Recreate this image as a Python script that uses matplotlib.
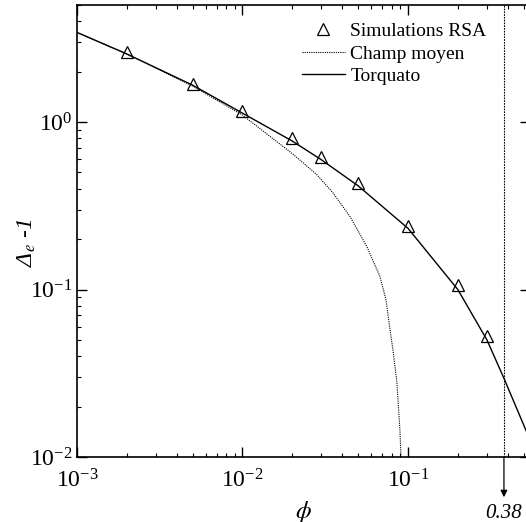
import numpy as np
import matplotlib.pyplot as plt
from matplotlib.ticker import LogLocator, NullFormatter

plt.rcParams['font.family'] = 'serif'
plt.rcParams['font.serif'] = ['Liberation Serif', 'DejaVu Serif']
plt.rcParams['mathtext.fontset'] = 'stix'
plt.rcParams['axes.unicode_minus'] = False

# RSA simulation results
phi_rsa = [0.002, 0.005, 0.01, 0.02, 0.03, 0.05, 0.1, 0.2, 0.3]
delta_rsa = [2.61, 1.68, 1.16, 0.80, 0.62, 0.433, 0.24, 0.106, 0.0525]

# mean-field curve
phi_cm = [0.001, 0.002, 0.005, 0.01, 0.0194, 0.0222, 0.0282, 0.0352, 0.0447,
          0.0565, 0.0678, 0.0736, 0.0778, 0.081, 0.0857, 0.0895, 0.0907]
delta_cm = [3.43, 2.55, 1.64, 1.10, 0.663, 0.594, 0.484, 0.378, 0.272,
            0.180, 0.119, 0.087, 0.0578, 0.044, 0.0279, 0.0141, 0.0101]

# Torquato curve
phi_tq = [0.001, 0.002, 0.005, 0.01, 0.02, 0.03, 0.05, 0.1, 0.2, 0.3, 0.38, 0.531]
delta_tq = [3.43, 2.55, 1.66, 1.13, 0.77, 0.595, 0.416, 0.232, 0.100, 0.050, 0.0295, 0.0135]

phi_c = 0.38

fig = plt.figure(figsize=(5.26, 5.22), dpi=100)
ax = fig.add_axes([77/526, 65/522, 453/526, 452/522])

ax.plot(phi_rsa, delta_rsa, '^', mfc='none', mec='k', ms=8, mew=0.9,
        label='Simulations RSA')
ax.plot(phi_cm, delta_cm, color='k', ls=(0, (1, 1)), lw=0.8, label='Champ moyen')
ax.plot(phi_tq, delta_tq, '-k', lw=1.0, label='Torquato')

ax.axvline(phi_c, color='k', ls=(0, (1.5, 1)), lw=0.8)
ax.annotate('', xy=(phi_c, -0.089), xytext=(phi_c, 0),
            xycoords=('data', 'axes fraction'), textcoords=('data', 'axes fraction'),
            arrowprops=dict(arrowstyle='-|>', color='k', lw=0.9,
                            mutation_scale=10, shrinkA=0, shrinkB=0),
            annotation_clip=False)
ax.text(phi_c, -0.126, '0.38', transform=ax.get_xaxis_transform(),
        ha='center', va='center', fontsize=15, style='italic', clip_on=False)

ax.set_xscale('log')
ax.set_yscale('log')
ax.set_xlim(1e-3, 0.546)
ax.set_ylim(1e-2, 5)

ax.xaxis.set_minor_locator(LogLocator(base=10, subs=np.arange(2, 10)))
ax.yaxis.set_minor_locator(LogLocator(base=10, subs=np.arange(2, 10)))
ax.xaxis.set_minor_formatter(NullFormatter())
ax.yaxis.set_minor_formatter(NullFormatter())
ax.tick_params(which='both', direction='in', top=True, right=True, labelsize=17)
ax.tick_params(which='major', length=7, width=1)
ax.tick_params(which='minor', length=3, width=0.8)
ax.tick_params(axis='x', which='major', pad=9)
for s in ax.spines.values():
    s.set_linewidth(1.2)

ax.set_xlabel(r'$\phi$', fontsize=18)
ax.set_ylabel(r'Δ$_e$ -1', fontsize=17, style='italic')
ax.xaxis.set_label_coords(0.5, -0.093)
ax.yaxis.set_label_coords(-0.086, 0.475)

ax.legend(loc='upper right', bbox_to_anchor=(0.943, 1.0), frameon=False,
          fontsize=14, handlelength=2.2, handletextpad=0.3, labelspacing=0.25)

fig.savefig('out.png', dpi=100)
